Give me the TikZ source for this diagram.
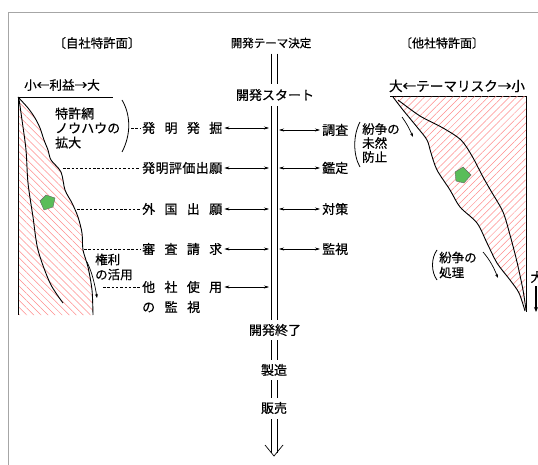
\documentclass[tikz,border=0pt]{standalone}
\usepackage{fontspec}
\newfontfamily\jp[FakeBold=0.5]{Noto Sans CJK JP}
\usetikzlibrary{arrows.meta,patterns.meta}
\begin{document}
\begin{tikzpicture}[x=1pt,y=-1pt,
  lbl/.style={font=\jp\fontsize{13}{14.5}\selectfont, inner sep=1pt},
  ln/.style={line width=0.6pt},
  bia/.style={{Stealth[length=5pt,width=3pt]}-{Stealth[length=5pt,width=3pt]}, line width=0.5pt},
  dsh/.style={dash pattern=on 2.5pt off 1.8pt, line width=0.5pt},
  prof/.style={line width=0.9pt},
  hatchL/.style={pattern={Lines[angle=-45,distance=5pt,line width=0.5pt]}, pattern color=red!45},
  hatchR/.style={pattern={Lines[angle=45,distance=5pt,line width=0.5pt]}, pattern color=red!45},
  gem/.style={fill=green!60!black!65, draw=black!60, line width=0.4pt},
  sm/.style={-{Stealth[length=4pt,width=3pt]}, line width=0.7pt}
]
\useasboundingbox (0,0) rectangle (538,465);
% frame
\draw[gray!70, line width=0.5pt] (8,12) -- (538,12);
\draw[gray!70, line width=0.5pt] (8,12) -- (8,465);

% axis coordinates
\coordinate (axis) at (274,0);
\coordinate (axL) at (269,0);
\coordinate (axR) at (279,0);

% titles
\node[lbl, font=\jp\fontsize{12.4}{14}\selectfont] (tl) at (97,43) {〔自社特許面〕};
\node[lbl, font=\jp\fontsize{11.5}{14}\selectfont] (theme) at (271,43) {開発テーマ決定};
\node[lbl, font=\jp\fontsize{12}{14}\selectfont] (tr) at (442,43) {〔他社特許面〕};

% main flow
\node[lbl] (start) at (275,95) {開発スタート};
\node[lbl] (fin) at (275,330) {開発終了};
\node[lbl] (mfg) at (274,370) {製造};
\node[lbl] (sale) at (274,408) {販売};
\coordinate (tip) at (274,456);

\foreach \s in {-3,3}{
  \draw[ln, shorten <=4pt, shorten >=4pt] ([xshift=\s pt]theme.south -| axis) -- ([xshift=\s pt]start.north -| axis);
  \draw[ln, shorten <=4pt, shorten >=3pt] ([xshift=\s pt]start.south -| axis) -- ([xshift=\s pt]fin.north -| axis);
  \draw[ln, shorten <=3pt, shorten >=3pt] ([xshift=\s pt]fin.south -| axis) -- ([xshift=\s pt]mfg.north -| axis);
  \draw[ln, shorten <=3pt, shorten >=3pt] ([xshift=\s pt]mfg.south -| axis) -- ([xshift=\s pt]sale.north -| axis);
  \draw[ln, shorten <=4pt, shorten >=3pt] ([xshift=\s pt]sale.south -| axis) -- ([xshift=\s pt]tip);
}
\draw[line width=0.7pt] (tip) ++(-9,-11) -- (tip) -- ++(9,-11);

% left labels
\node[lbl, anchor=west, inner sep=0pt] (l1) at (142,128) {\makebox[80pt][s]{発\hfill 明\hfill 発\hfill 掘}};
\node[lbl, anchor=west, inner sep=0pt] (l2) at (142,168) {\makebox[80pt][s]{発\hfill 明\hfill 評\hfill 価\hfill 出\hfill 願}};
\node[lbl, anchor=west, inner sep=0pt] (l3) at (142,209) {\makebox[80pt][s]{外\hfill 国\hfill 出\hfill 願}};
\node[lbl, anchor=west, inner sep=0pt] (l4) at (142,249) {\makebox[80pt][s]{審\hfill 査\hfill 請\hfill 求}};
\node[lbl, anchor=west, inner sep=0pt] (l5) at (142,287) {\makebox[80pt][s]{他\hfill 社\hfill 使\hfill 用}};
\node[lbl, anchor=west, inner sep=0pt] (l5b) at (142,307) {\makebox[58pt][s]{の\hfill 監\hfill 視}};

\foreach \n in {l1,l2,l3,l4,l5}{
  \draw[bia, shorten <=2pt] (\n.east) -- (\n.east -| axL);
}

% dashed leaders
\coordinate (d1) at (131,128);
\coordinate (d2) at (63,168);
\coordinate (d3) at (77,209);
\coordinate (d4) at (84,249);
\coordinate (d5) at (103,287);
\draw[dsh, shorten >=2pt] (d1) -- (l1.west);
\draw[dsh, shorten >=2pt] (d2) -- (l2.west);
\draw[dsh, shorten >=2pt] (d3) -- (l3.west);
\draw[dsh, shorten >=2pt] (d4) -- (l4.west);
\draw[dsh, shorten >=2pt] (d5) -- (l5.west);

% right labels
\node[lbl, anchor=west, inner sep=0pt] (r1) at (322,130) {調査};
\node[lbl, anchor=west, inner sep=0pt] (r2) at (322,168) {鑑定};
\node[lbl, anchor=west, inner sep=0pt] (r3) at (322,209) {対策};
\node[lbl, anchor=west, inner sep=0pt] (r4) at (322,249) {監視};
\foreach \n in {r1,r2,r3,r4}{
  \draw[bia, shorten <=2pt] (\n.west) -- (\n.west -| axR);
}

% left side: profit scale
\node[lbl, font=\jp\fontsize{12.6}{14}\selectfont] (prof) at (62,85) {小←利益→大};
\coordinate (ulA) at (18,97);
\coordinate (ulB) at (113,97);
\draw[line width=0.6pt] (ulA) -- (ulB);

\fill[hatchL] plot[smooth] coordinates {(18,97) (28,108) (35,118) (40,128) (44,140) (48,150) (51,160) (61,172) (65,190) (72,203) (78,217) (82,233) (83,250) (88,267) (92,290) (93,315)} -- (18,315) -- cycle;
\draw[prof] plot[smooth] coordinates {(18,97) (28,108) (35,118) (40,128) (44,140) (48,150) (51,160) (61,172) (65,190) (72,203) (78,217) (82,233) (83,250) (88,267) (92,290) (93,315)};
\draw[prof] plot[smooth] coordinates {(19,99) (22,120) (26,150) (28,183) (33,217) (38,250) (50,283) (63,303)};
\draw[prof] (18,97) -- (18,315);
\filldraw[gem] (40,201) -- (46,195) -- (55,198) -- (53,207) -- (44,210) -- cycle;

\node[lbl, anchor=west, align=left, inner sep=0pt, font=\jp\fontsize{13}{14.5}\selectfont] (net) at (55,128) {特許網\\ノウハウの\\拡大};
\draw[line width=0.8pt] (122,100) .. controls (131,115) and (131,135) .. (122,152);

\node[lbl, anchor=west, align=left, inner sep=0pt, font=\jp\fontsize{12.5}{15}\selectfont] (use) at (95,267) {権利\\の活用};
\coordinate (ua) at (87,262);
\coordinate (ub) at (97,298);
\draw[sm] (ua) .. controls (92,272) and (95,285) .. (ub);

% right side: theme risk
\node[lbl, font=\jp\fontsize{13.6}{15}\selectfont] (risk) at (457,86) {大←テーマリスク→小};
\coordinate (urA) at (390,96);
\coordinate (urB) at (526,96);
\draw[line width=0.6pt] (urA) -- (urB);

\fill[hatchR] plot[smooth] coordinates {(393,97) (403,110) (417,127) (427,140) (431,153) (437,170) (450,190) (460,207) (477,223) (487,243) (497,263) (510,280) (519,293) (525,311)} -- (526,96) -- cycle;
\draw[prof] plot[smooth] coordinates {(393,97) (403,110) (417,127) (427,140) (431,153) (437,170) (450,190) (460,207) (477,223) (487,243) (497,263) (510,280) (519,293) (525,311)};
\draw[prof] plot[smooth] coordinates {(398,100) (420,116) (443,128) (461,140) (472,156) (483,177) (491,191) (503,212) (510,235) (517,262) (523,290) (526,310)};
\draw[prof] (526,96) -- (526,312);
\filldraw[gem] (455,172) -- (463,167) -- (471,175) -- (464,183) -- (456,181) -- cycle;

\coordinate (sa) at (402,117);
\coordinate (sb) at (413,137);
\draw[sm] (sa) .. controls (407,124) and (410,130) .. (sb);

\node[lbl, anchor=west, align=left, inner sep=0pt, font=\jp\fontsize{12.5}{14}\selectfont] (prev) at (362,143) {紛争の\\未然\\防止};
\draw[line width=0.8pt] (360,122) .. controls (353,135) and (353,155) .. (360,167);

\node[lbl, anchor=west, align=left, inner sep=0pt, font=\jp\fontsize{12.5}{15}\selectfont] (disp) at (439,265) {紛争の\\処理};
\draw[line width=0.8pt] (437,250) .. controls (431,258) and (431,272) .. (437,280);
\coordinate (pa) at (483,252);
\coordinate (pb) at (498,278);
\draw[sm] (pa) .. controls (490,260) and (494,268) .. (pb);

% cut-off label at right edge (as in the reference)
\node[lbl] (big) at (537,277) {大};
\coordinate (ba) at (536,286);
\coordinate (bb) at (536,312);
\draw[-{Stealth[length=5pt,width=4pt]}, line width=1.4pt] (ba) -- (bb);
\end{tikzpicture}
\end{document}
